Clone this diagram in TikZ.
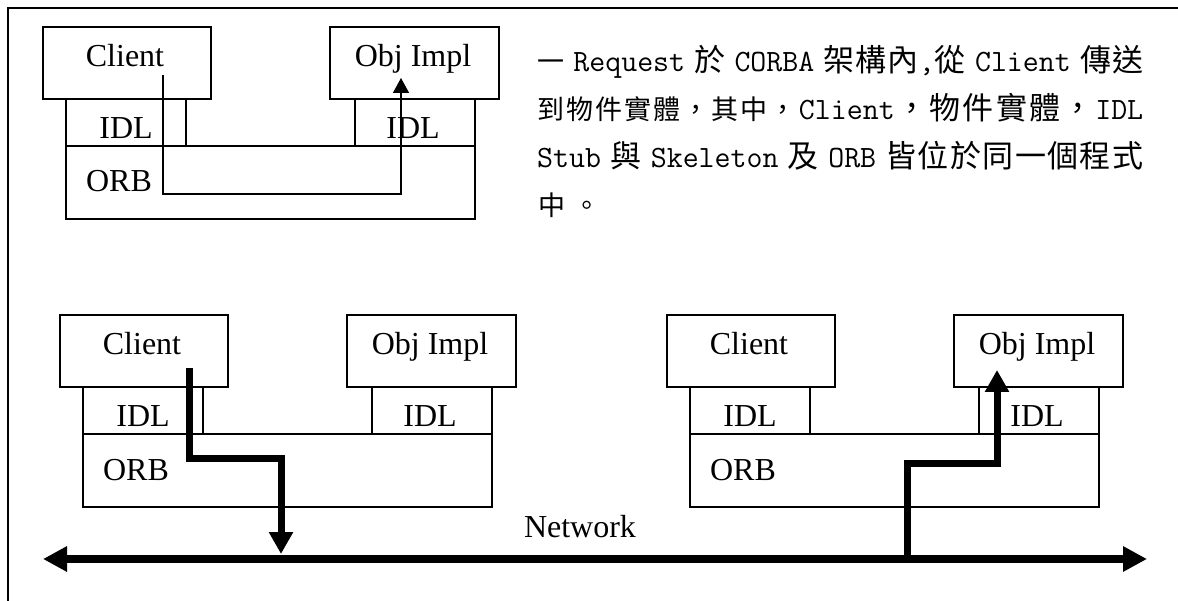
\documentclass[tikz,border=0pt]{standalone}
\usepackage{fontspec}
\setmainfont{Liberation Serif}
\newfontfamily\cjk{Noto Sans CJK TC}
\newcommand\latmono{\ttfamily\fontsize{31pt}{33pt}\selectfont}
\usetikzlibrary{arrows.meta,calc}

% glue for the justified paragraph lines
\newcommand\gs{\hspace{8pt plus 1fil}}
\newcommand\gc{\hspace{0pt plus 1fil}}

\tikzset{
  blk/.style={draw, line width=1.4pt, inner sep=0pt, outer sep=0pt, anchor=north west},
  lbl/.style={inner sep=0pt, anchor=base, font=\fontsize{32pt}{38pt}\selectfont},
  para/.style={inner sep=0pt, anchor=base west, font=\fontsize{27pt}{32pt}\selectfont},
  thinreq/.style={line width=1.5pt, -{Triangle[width=16pt,length=15pt]}},
  thickreq/.style={line width=7pt, line join=miter, -{Triangle[width=23pt,length=22pt]}},
  net/.style={line width=8pt, {Triangle[width=24pt,length=24pt]}-{Triangle[width=24pt,length=24pt]}},
  % one process: Client and object implementation on top of their IDL parts and the ORB
  stack/.pic={
    \node[blk, minimum width=168pt, minimum height=72pt] (-client) at (0,0) {};
    \node[blk, minimum width=120pt, minimum height=47pt] (-cidl) at (23,72) {};
    \node[blk, minimum width=409pt, minimum height=73pt] (-orb) at (23,119) {};
    \node[blk, minimum width=169pt, minimum height=72pt] (-obj) at (287,0) {};
    \node[blk, minimum width=120pt, minimum height=47pt] (-oidl) at (312,72) {};
    \node[lbl] (-clientname) at (82,40) {Client};
    \node[lbl] (-objname) at (370,40) {Obj Impl};
    \node[lbl] (-cidlname) at (83,112) {IDL};
    \node[lbl] (-oidlname) at (370,112) {IDL};
    \node[lbl] (-orbname) at (76,165) {ORB};
  }
}

\begin{document}
\begin{tikzpicture}[x=1pt,y=-1pt]
\useasboundingbox (0,0) rectangle (1178,601);

% page frame
\draw[line width=1.6pt] (8,601) -- (8,8) -- (1178,8);

% single process
\pic (top) at (43,27) {stack};
\coordinate (t-a) at ($(top-client.north west)+(120,48)$);
\coordinate (t-b) at ($(top-obj.north west)+(71,51)$);
\draw[thinreq] (t-a) -- ++(0,119) -| (t-b);

% description
\node[para] (l1) at (537,72) {\makebox[606pt][s]{\cjk 一\gs\latmono Request\gs\cjk 於\gs\latmono CORBA\gs\cjk 架\gc 構\gc 內\latmono,\cjk 從\gs\latmono Client\gs\cjk 傳\gc 送}};
\node[para] (l2) at (537,120) {\makebox[606pt][s]{\cjk 到\gc 物\gc 件\gc 實\gc 體\gc ，\gc 其\gc 中\gc ，\gc\latmono Client\gc\cjk ，\gc 物\gc 件\gc 實\gc 體\gc ，\gc\latmono IDL}};
\node[para] (l3) at (537,168) {\makebox[606pt][s]{\latmono Stub\gs\cjk 與\gs\latmono Skeleton\gs\cjk 及\gs\latmono ORB\gs\cjk 皆\gc 位\gc 於\gc 同\gc 一\gc 個\gc 程\gc 式}};
\node[para] (l4) at (538,216) {\cjk 中\hspace{8pt}。};

% two processes joined by the network
\pic (left) at (60,315) {stack};
\pic (right) at (667,315) {stack};

\coordinate (netL) at (43,559);
\coordinate (netR) at (1147,559);
\draw[net] (netL) -- (netR);
\node[lbl] (netname) at (580,537) {Network};

\coordinate (l-a) at ($(left-client.north west)+(129,53)$);
\coordinate (l-b) at ($(left-client.north west)+(221,239)$);
\draw[thickreq] (l-a) -- ++(0,90) -| (l-b);

\coordinate (r-a) at ($(right-client.north west)+(240,244)$);
\coordinate (r-b) at ($(right-obj.north west)+(43,55)$);
\draw[thickreq] (r-a) -- ++(0,-96) -| (r-b);
\end{tikzpicture}
\end{document}
